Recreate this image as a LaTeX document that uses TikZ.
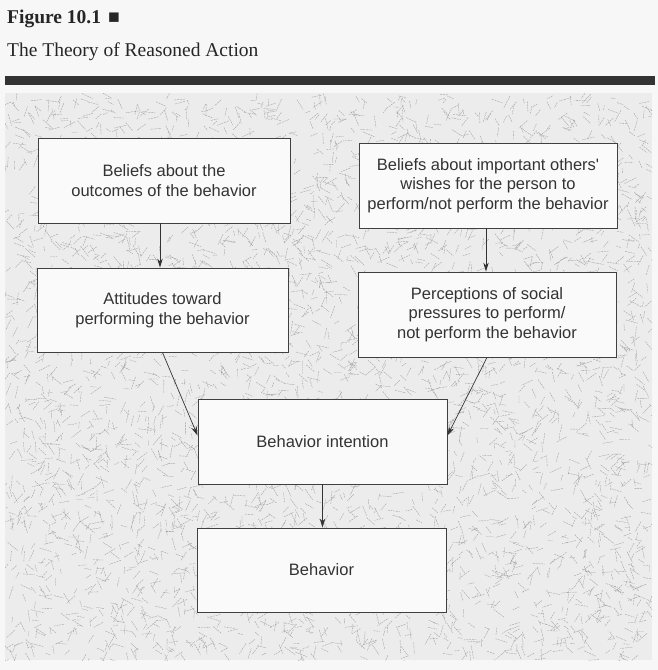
\documentclass[tikz,border=0pt]{standalone}
\usepackage{fontspec}
\setmainfont{Liberation Serif}
\newfontfamily\boxfont{Liberation Sans}
\usetikzlibrary{arrows.meta,calc}
\begin{document}
\begin{tikzpicture}[x=1pt,y=-1pt,
  stepbox/.style={draw=black!75, line width=0.9pt, fill=gray!4, align=center,
    font=\boxfont\fontsize{16.5}{19.5}\selectfont, text=black!80, inner sep=0pt},
  arr/.style={draw=black!80, line width=0.7pt, -{Stealth[length=9pt,width=5.5pt]}},
  speck/.style={draw=black!38, line width=0.35pt, dash pattern=on 2pt off 0.8pt},
  titletext/.style={anchor=base west, inner sep=0pt, text=black!85}]
\useasboundingbox (0,0) rectangle (658,670);
\fill[gray!6] (0,0) rectangle (658,670);

% title
\node[titletext, font=\bfseries\fontsize{19.5}{22}\selectfont] (fig) at (7,23) {Figure 10.1\hspace{7pt}■};
\node[titletext, font=\fontsize{19.5}{22}\selectfont] (sub) at (7,56) {The Theory of Reasoned Action};
\fill[black!80] (5,76) rectangle (655,85);

% textured background
\begin{scope}
\clip (5,93) rectangle (652,660);
\fill[gray!15] (5,93) rectangle (652,660);
\pgfmathsetseed{12}
\foreach \i in {1,...,4200}{
  \pgfmathsetmacro\xa{5+647*rnd}
  \pgfmathsetmacro\ya{93+567*rnd}
  \pgfmathsetmacro\an{180*rnd}
  \pgfmathsetmacro\ln{5+8*rnd}
  \draw[speck] (\xa,\ya) -- ++(\an:\ln);
}
\end{scope}

% boxes
\node[stepbox, minimum width=252pt, minimum height=85pt] (b1) at (164,180.5)
  {Beliefs about the\\outcomes of the behavior};
\node[stepbox, minimum width=251pt, minimum height=84pt] (b2) at (162.5,310)
  {Attitudes toward\\performing the behavior};
\node[stepbox, minimum width=258pt, minimum height=85pt] (b3) at (488,185.5)
  {Beliefs about important others'\\wishes for the person to\\perform/not perform the behavior};
\node[stepbox, minimum width=258pt, minimum height=85pt] (b4) at (487,314.5)
  {Perceptions of social\\pressures to perform/\\not perform the behavior};
\node[stepbox, minimum width=249pt, minimum height=85pt] (b5) at (322.5,441.5)
  {Behavior intention};
\node[stepbox, minimum width=249pt, minimum height=84pt] (b6) at (321.5,570)
  {Behavior};

% connectors
\draw[arr] ([xshift=-4pt]b1.south) -- ([xshift=-4pt]b1.south |- b2.north);
\draw[arr] ([xshift=-2pt]b3.south) -- ([xshift=-2pt]b3.south |- b4.north);
\draw[arr] (b2.south) -- ([yshift=6pt]b5.west);
\draw[arr] (b4.south) -- ([yshift=6pt]b5.east);
\draw[arr] (b5.south) -- (b5.south |- b6.north);
\end{tikzpicture}
\end{document}
